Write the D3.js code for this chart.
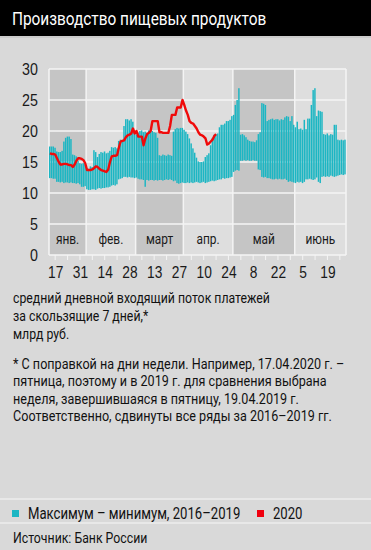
<!DOCTYPE html>
<html>
<head>
<meta charset="utf-8">
<script src="https://cdn.jsdelivr.net/npm/d3@7"></script>
<style>
  body { margin: 0; background: #d9d9d9; }
  svg { display: block; font-family: "Roboto", "Liberation Sans", sans-serif; }
</style>
</head>
<body>
<svg id="chart" width="371" height="550"></svg>
<script>
// first day shown, one bar per day after it
const startDay = "2020-01-14";
const endDay = "2020-06-30";

// max - min 2016-2019, bn rub
const maxValues = [
  17.5, 17.5, 17.5, 17.3, 16.7, 16.6, 16.6, 16.8, 18.3, 18.9, 19.1, 19.1, 18.7, 16.2,
  16.1, 15.9, 15.2, 14.8, 14.7, 14.8, 14.6, 14.0, 13.9, 14.3, 14.2, 16.9, 16.6, 15.8,
  16.3, 16.6, 16.5, 16.7, 16.4, 16.5, 16.8, 17.4, 17.3, 17.4, 17.2, 18.4, 18.6, 18.5,
  20.8, 21.9, 21.9, 21.7, 21.9, 21.5, 19.6, 19.4, 19.7, 20.0, 20.1, 19.8, 19.9, 19.6,
  20.1, 20.2, 20.0, 19.8, 19.7, 18.9, 16.1, 16.0, 16.2, 16.1, 16.0, 16.2, 16.1, 16.0,
  19.9, 20.3, 20.5, 20.4, 20.5, 20.5, 20.2, 19.9, 19.5, 18.8, 18.0, 17.2, 16.5, 15.7,
  15.1, 15.0, 15.0, 15.1, 15.8, 16.1, 16.4, 17.7, 18.9, 19.4, 19.5, 19.6, 20.6, 21.0,
  21.0, 21.2, 21.6, 21.6, 21.8, 22.4, 22.6, 24.2, 25.0, 26.9, 19.4, 19.5, 19.3, 19.0,
  18.6, 18.4, 18.3, 18.3, 18.2, 18.5, 19.5, 19.8, 24.5, 24.4, 24.2, 21.6, 21.8, 21.9,
  22.0, 21.8, 21.9, 21.9, 21.7, 21.9, 21.8, 22.2, 22.4, 22.3, 21.6, 22.4, 21.0, 20.6,
  21.5, 20.3, 20.4, 20.2, 21.8, 20.3, 22.0, 22.0, 24.2, 26.6, 26.9, 22.4, 23.3, 23.2,
  23.1, 19.5, 19.4, 19.6, 19.3, 19.5, 19.4, 21.0, 21.0, 18.6, 18.5, 18.6, 18.5, 18.6
];
const minValues = [
  12.4, 12.4, 12.3, 12.3, 11.8, 11.8, 11.7, 11.8, 11.6, 11.7, 11.7, 11.6, 11.7, 11.6,
  11.6, 11.5, 11.6, 11.4, 11.0, 11.0, 11.1, 10.6, 10.5, 10.5, 10.6, 10.6, 10.5, 10.7,
  10.8, 10.7, 10.8, 10.8, 10.9, 10.9, 11.0, 11.2, 11.3, 11.2, 11.4, 12.2, 12.3, 12.4,
  12.6, 12.6, 12.5, 12.6, 12.5, 12.5, 12.4, 12.5, 12.3, 12.2, 12.2, 12.1, 11.0, 12.1,
  12.0, 12.1, 12.1, 12.0, 12.1, 12.0, 12.1, 12.1, 12.0, 12.1, 12.2, 12.1, 12.2, 12.1,
  11.9, 12.0, 11.6, 11.5, 11.6, 11.7, 11.6, 11.6, 11.7, 11.6, 11.7, 11.6, 11.7, 11.8,
  11.7, 11.6, 11.7, 11.8, 11.6, 11.7, 11.8, 11.9, 12.0, 11.9, 12.0, 12.1, 12.2, 12.2,
  12.4, 12.3, 12.4, 12.4, 12.5, 12.6, 13.4, 13.6, 13.7, 13.6, 15.2, 15.2, 15.3, 15.2,
  15.3, 15.2, 15.2, 15.3, 15.2, 15.2, 13.8, 13.7, 12.6, 12.5, 12.6, 12.4, 12.4, 12.3,
  12.2, 12.2, 12.3, 12.2, 12.3, 12.2, 12.2, 12.3, 12.1, 11.8, 11.9, 11.8, 11.7, 11.6,
  11.8, 11.7, 11.8, 11.6, 11.8, 12.2, 12.2, 12.3, 12.2, 12.1, 12.2, 12.5, 11.8, 11.6,
  12.6, 12.7, 12.6, 12.7, 12.6, 12.8, 12.7, 12.6, 12.7, 12.8, 12.9, 13.0, 12.9, 13.0
];
// 2020, from the same first day to 17.04
const values2020 = [
  16.4, 16.3, 16.3, 16.2, 15.6, 15.0, 14.6, 14.6, 14.7, 14.7, 14.6, 14.5, 14.5, 14.2,
  14.6, 15.2, 15.6, 15.6, 15.5, 15.3, 14.8, 13.7, 13.7, 13.7, 13.8, 14.0, 14.3, 14.2,
  13.9, 13.7, 13.6, 13.5, 13.4, 13.8, 15.0, 15.9, 16.0, 16.0, 16.1, 17.3, 18.3, 18.4,
  18.5, 19.0, 19.3, 19.4, 19.6, 20.4, 19.6, 20.0, 19.1, 19.1, 19.1, 17.7, 18.8, 19.5,
  19.7, 20.0, 21.6, 21.6, 21.6, 21.6, 19.8, 19.8, 19.7, 19.7, 19.7, 19.7, 20.8, 22.6,
  22.6, 22.6, 23.8, 23.8, 23.8, 25.0, 24.2, 23.3, 22.6, 21.6, 21.3, 21.2, 20.8, 20.4,
  19.8, 19.4, 19.3, 19.1, 18.8, 17.8, 18.0, 18.3, 18.6, 19.2, 19.5
];

const tickDates = ["2020-01-17", "2020-01-31", "2020-02-14", "2020-02-28", "2020-03-13", "2020-03-27",
  "2020-04-10", "2020-04-24", "2020-05-08", "2020-05-22", "2020-06-05", "2020-06-19"];
const monthNames = ["янв.", "фев.", "март", "апр.", "май", "июнь"];
const monthEdges = ["2020-01-14", "2020-02-04", "2020-03-03", "2020-03-30", "2020-04-27", "2020-06-01", "2020-06-30"];
const yTicks = [0, 5, 10, 15, 20, 25, 30];

const noteLines = ["средний дневной входящий поток платежей", "за скользящие 7 дней,*", "млрд руб."];
const footLines = [
  "* С поправкой на дни недели. Например, 17.04.2020 г. –",
  "пятница, поэтому и в 2019 г. для сравнения выбрана",
  "неделя, завершившаяся в пятницу, 19.04.2019 г.",
  "Соответственно, сдвинуты все ряды за 2016–2019 гг."
];
const legendItems = [
  { label: "Максимум – минимум, 2016–2019", color: "#1cb6c3" },
  { label: "2020", color: "#f0000f" }
];

const parse = d3.utcParse("%Y-%m-%d");
const start = parse(startDay);
const svg = d3.select("#chart");
const teal = "#1cb6c3";
const red = "#f00a0a";

// the original uses a condensed face, so squeeze the text horizontally
function squeeze(sel, sx) {
  sel.each(function () {
    const t = d3.select(this);
    const x0 = +t.attr("x") || 0;
    t.attr("x", 0).attr("transform", `translate(${x0},0) scale(${sx},1)`);
  });
}

// title bar
svg.append("rect").attr("x", 0).attr("y", 0).attr("width", 371).attr("height", 36).attr("fill", "#000");
svg.append("line").attr("x1", 0).attr("x2", 371).attr("y1", 37).attr("y2", 37).attr("stroke", "#bdbdbd");
svg.append("text").attr("x", 12).attr("y", 25).attr("fill", "#fff")
  .attr("font-size", 19).text("Производство пищевых продуктов")
  .call(squeeze, 0.81);

const x = d3.scaleUtc().domain([start, parse(endDay)]).range([49, 346]);
const y = d3.scaleLinear().domain([0, 30]).range([255, 69]);
const dayW = x(d3.utcDay.offset(start, 1)) - x(start);

// month bands
const bands = monthNames.map((m, i) => ({ name: m, a: parse(monthEdges[i]), b: parse(monthEdges[i + 1]), dark: i % 2 === 0 }));
svg.append("g").selectAll("rect").data(bands).join("rect")
  .attr("x", d => x(d.a)).attr("width", d => x(d.b) - x(d.a))
  .attr("y", y(30)).attr("height", y(0) - y(30))
  .attr("fill", d => d.dark ? "#c5c5c5" : "#dedede");

// grid
svg.append("g").selectAll("line").data(yTicks).join("line")
  .attr("x1", x.range()[0]).attr("x2", x.range()[1])
  .attr("y1", d => y(d)).attr("y2", d => y(d))
  .attr("stroke", "#f4f4f4").attr("stroke-width", 1.5);
svg.append("g").selectAll("line").data(monthEdges.map(parse)).join("line")
  .attr("x1", d => x(d)).attr("x2", d => x(d))
  .attr("y1", y(30)).attr("y2", y(0))
  .attr("stroke", "#f4f4f4").attr("stroke-width", 1.5);

// weekly tick marks
svg.append("g").selectAll("line").data(d3.utcFriday.range(start, parse(endDay))).join("line")
  .attr("x1", d => x(d) + dayW / 2).attr("x2", d => x(d) + dayW / 2)
  .attr("y1", y(0)).attr("y2", y(0) + 5)
  .attr("stroke", "#f4f4f4").attr("stroke-width", 1);

// month labels
svg.append("g").selectAll("text").data(bands).join("text")
  .attr("x", d => (x(d.a) + x(d.b)) / 2).attr("y", y(2.5) + 5)
  .attr("text-anchor", "middle").attr("font-size", 14).attr("fill", "#1a1a1a")
  .text(d => d.name)
  .call(squeeze, 0.85);

// range bars
const rows = maxValues.map((v, i) => ({ date: d3.utcDay.offset(start, i), hi: v, lo: minValues[i] }));
svg.append("g").selectAll("rect").data(rows).join("rect")
  .attr("x", d => x(d.date)).attr("width", dayW - 0.3)
  .attr("y", d => y(d.hi)).attr("height", d => y(d.lo) - y(d.hi))
  .attr("fill", teal);

// 2020 line
const line = d3.line().x(d => x(d.date) + dayW / 2).y(d => y(d.v));
svg.append("path")
  .datum(values2020.map((v, i) => ({ date: d3.utcDay.offset(start, i), v })))
  .attr("d", line).attr("fill", "none").attr("stroke", red)
  .attr("stroke-width", 2.4).attr("stroke-linejoin", "round");

// axes
const yAxis = svg.append("g").attr("transform", "translate(38,0)")
  .call(d3.axisLeft(y).tickValues(yTicks).tickSize(0).tickPadding(0));
yAxis.select(".domain").remove();
yAxis.selectAll("text").attr("font-size", 17).attr("fill", "#1a1a1a").attr("font-family", null)
  .attr("transform", "scale(0.84,1)");

const xAxis = svg.append("g").attr("transform", `translate(${dayW / 2},${y(0)})`)
  .call(d3.axisBottom(x).tickValues(tickDates.map(parse)).tickFormat(d3.utcFormat("%-d")).tickSize(0).tickPadding(12));
xAxis.select(".domain").remove();
xAxis.selectAll("text").attr("font-size", 16).attr("fill", "#1a1a1a").attr("font-family", null)
  .attr("transform", "scale(0.86,1)");

// caption and footnote
svg.append("g").selectAll("text").data(noteLines).join("text")
  .attr("x", 13).attr("y", (d, i) => 303 + i * 18)
  .attr("font-size", 15).attr("fill", "#111").text(d => d)
  .call(squeeze, 0.82);
svg.append("g").selectAll("text").data(footLines).join("text")
  .attr("x", 13).attr("y", (d, i) => 369 + i * 17.5)
  .attr("font-size", 15).attr("fill", "#111").text(d => d)
  .call(squeeze, 0.84);

// legend
svg.selectAll(".sep").data([499, 523]).join("line")
  .attr("x1", 0).attr("x2", 371).attr("y1", d => d).attr("y2", d => d)
  .attr("stroke", "#ececec").attr("stroke-width", 1.5);
const legX = [12, 257];
const leg = svg.append("g").selectAll("g").data(legendItems).join("g")
  .attr("transform", (d, i) => `translate(${legX[i]},510)`);
leg.append("rect").attr("width", 7).attr("height", 7).attr("fill", d => d.color);
leg.append("text").attr("x", 16).attr("y", 9).attr("font-size", 16).attr("fill", "#111").text(d => d.label)
  .call(squeeze, 0.82);

svg.append("text").attr("x", 13).attr("y", 543).attr("font-size", 15).attr("fill", "#111")
  .text("Источник: Банк России")
  .call(squeeze, 0.82);
</script>
</body>
</html>
